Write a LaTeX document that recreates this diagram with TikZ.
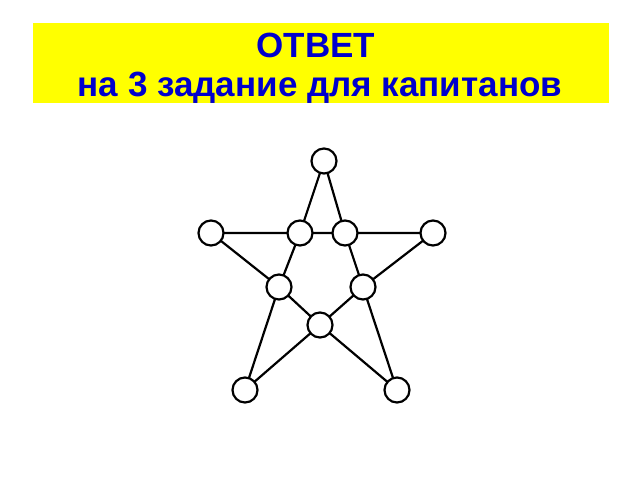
\documentclass[tikz,border=0pt]{standalone}
\usepackage{fontspec}
\setmainfont{Liberation Sans}
\begin{document}
\begin{tikzpicture}[x=1pt,y=-1pt,
  vtx/.style={circle,draw=black,line width=2.2pt,fill=white,minimum size=25pt,inner sep=0pt},
  edge/.style={line width=2.2pt,draw=black},
  ttl/.style={font=\fontsize{35}{40}\selectfont\bfseries,text=titleblue,inner sep=0pt,anchor=base}]
\definecolor{titleblue}{RGB}{0,0,204}
\definecolor{titleyellow}{RGB}{255,255,0}
\useasboundingbox (0,0) rectangle (640,480);
\fill[white] (0,0) rectangle (640,480);
\node[fill=titleyellow,minimum width=576pt,minimum height=80pt,inner sep=0pt,anchor=north west] (banner) at (33,23) {};
\node[ttl] (t1) at (316,57) {ОТВЕТ};
\node[ttl] (t2) at (320,96) {на 3 задание для капитанов};
\coordinate (pT) at (324,161);
\coordinate (pL) at (211,233);
\coordinate (pIL) at (300,233);
\coordinate (pIR) at (345,233);
\coordinate (pR) at (433,233);
\coordinate (pML) at (279,287);
\coordinate (pMR) at (363,287);
\coordinate (pBC) at (320,325);
\coordinate (pBL) at (245,390);
\coordinate (pBR) at (397,390);
\draw[edge] (pT) -- (pIL) (pT) -- (pIR) (pL) -- (pIL) -- (pIR) -- (pR)
  (pL) -- (pML) (pIL) -- (pML) (pIR) -- (pMR) (pR) -- (pMR)
  (pML) -- (pBC) -- (pMR) (pML) -- (pBL) (pBC) -- (pBL) (pBC) -- (pBR) (pMR) -- (pBR);
\foreach \p/\n in {pT/vT,pL/vL,pIL/vIL,pIR/vIR,pR/vR,pML/vML,pMR/vMR,pBC/vBC,pBL/vBL,pBR/vBR}
  \node[vtx] (\n) at (\p) {};
\end{tikzpicture}
\end{document}
